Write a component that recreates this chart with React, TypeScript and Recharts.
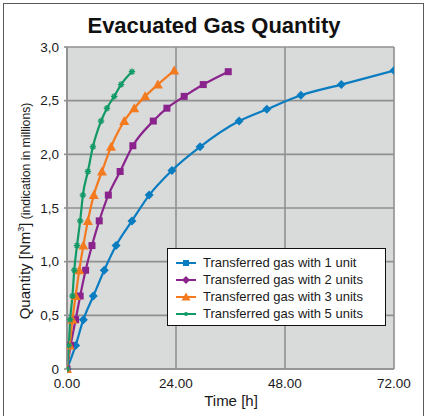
import React from "react"
import { LineChart, Line, XAxis, YAxis, CartesianGrid } from "recharts"

// time in hours per series
const hours1 = [0, 1.9, 3.6, 5.8, 8.2, 10.8, 14.3, 18.1, 23.1, 29.3, 37.9, 44, 51.5, 60.4, 72]
const hours2 = [0, 0.8, 1.9, 2.9, 4.1, 5.5, 7.1, 9.1, 11.7, 14.5, 19, 22, 25.8, 30, 35.5]
const hours3 = [0, 0.6, 1.2, 1.9, 2.7, 3.6, 4.6, 5.9, 7.7, 9.7, 12.6, 14.8, 17.2, 20, 23.6]
const hours5 = [0, 0.4, 0.7, 1.2, 1.6, 2.2, 2.9, 3.5, 4.6, 5.7, 7.5, 8.8, 10.4, 11.9, 14.3]

// quantity in millions Nm3
const qty1 = [0, 0.22, 0.46, 0.68, 0.92, 1.15, 1.38, 1.62, 1.85, 2.07, 2.31, 2.42, 2.55, 2.65, 2.78]
const qty2 = [0, 0.22, 0.46, 0.68, 0.92, 1.15, 1.38, 1.62, 1.84, 2.08, 2.31, 2.43, 2.54, 2.65, 2.77]
const qty3 = [0, 0.22, 0.46, 0.68, 0.92, 1.15, 1.38, 1.62, 1.84, 2.07, 2.31, 2.43, 2.54, 2.65, 2.78]
const qty5 = [0, 0.22, 0.46, 0.68, 0.92, 1.15, 1.38, 1.62, 1.84, 2.07, 2.31, 2.43, 2.54, 2.65, 2.77]

const xTicks = [0, 24, 48, 72]
const yTicks = [0, 0.5, 1, 1.5, 2, 2.5, 3]

const seriesNames = [
  "Transferred gas with 1 unit",
  "Transferred gas with 2 units",
  "Transferred gas with 3 units",
  "Transferred gas with 5 units",
]

const BLUE = "#0a7cc0"
const PURPLE = "#8a248c"
const ORANGE = "#f37a1f"
const GREEN = "#129a66"

const FONT = "'Liberation Sans', Arial, sans-serif"

const toPoints = (xs: number[], ys: number[]) => xs.map((t, i) => ({ t, q: ys[i] }))

const Diamond = (props: any) => {
  const { cx, cy, fill } = props
  if (cx == null || cy == null) return null
  return <path d={`M${cx},${cy - 4.5}L${cx + 4.5},${cy}L${cx},${cy + 4.5}L${cx - 4.5},${cy}Z`} fill={fill} />
}

const Square = (props: any) => {
  const { cx, cy, fill } = props
  if (cx == null || cy == null) return null
  return <rect x={cx - 3.5} y={cy - 3.5} width={7} height={7} fill={fill} />
}

const Triangle = (props: any) => {
  const { cx, cy, fill } = props
  if (cx == null || cy == null) return null
  return <path d={`M${cx},${cy - 5}L${cx + 5},${cy + 4}L${cx - 5},${cy + 4}Z`} fill={fill} />
}

const Star = (props: any) => {
  const { cx, cy, stroke } = props
  if (cx == null || cy == null) return null
  const r = 3.2
  return (
    <g stroke={stroke} strokeWidth={1.4}>
      <line x1={cx - r} y1={cy} x2={cx + r} y2={cy} />
      <line x1={cx} y1={cy - r} x2={cx} y2={cy + r} />
      <line x1={cx - r * 0.7} y1={cy - r * 0.7} x2={cx + r * 0.7} y2={cy + r * 0.7} />
      <line x1={cx - r * 0.7} y1={cy + r * 0.7} x2={cx + r * 0.7} y2={cy - r * 0.7} />
    </g>
  )
}

const legendColors = [BLUE, PURPLE, ORANGE, GREEN]

const LegendBox = () => (
  <div
    style={{
      position: "absolute",
      left: 167,
      top: 248,
      width: 219,
      height: 78,
      border: "1.5px solid #111",
      background: "#fff",
      boxSizing: "border-box",
      paddingTop: 5,
    }}
  >
    {seriesNames.map((name, i) => (
      <div key={name} style={{ display: "flex", alignItems: "center", height: 17, fontFamily: FONT, fontSize: 13, color: "#1a1a1a" }}>
        <svg width={35} height={12}>
          <line x1={8} y1={6} x2={28} y2={6} stroke={legendColors[i]} strokeWidth={2} />
          {i === 0 && <rect x={15} y={3} width={6} height={6} fill={BLUE} />}
          {i === 1 && <path d="M18,2 L22,6 L18,10 L14,6 Z" fill={PURPLE} />}
          {i === 2 && <path d="M18,1.5 L22.5,9.5 L13.5,9.5 Z" fill={ORANGE} />}
          {i === 3 && <circle cx={18} cy={6} r={2} fill={GREEN} />}
        </svg>
        <span>{name}</span>
      </div>
    ))}
  </div>
)

export default function App() {
  const fmtY = (v: number) => (v === 0 ? "0" : v.toFixed(1).replace(".", ","))
  const fmtX = (v: number) => v.toFixed(2)
  const tickStyle = { fontFamily: FONT, fontSize: 13.5, fill: "#1a1a1a" }

  return (
    <div style={{ position: "absolute", left: 0, top: 0, width: 425, height: 416, background: "#fff", overflow: "hidden" }}>
      <div style={{ position: "absolute", left: 3, top: 3, width: 419, height: 420, border: "1px solid #5a5a5a" }} />
      <LineChart width={425} height={416} margin={{ top: 47, right: 31, left: 0, bottom: 0 }}>
        <CartesianGrid fill="#d9dada" stroke="#909090" strokeWidth={1.6} />
        <XAxis
          type="number"
          dataKey="t"
          domain={[0, 72]}
          ticks={xTicks}
          tickFormatter={fmtX}
          height={47}
          tickSize={0}
          tickMargin={9}
          stroke="#909090"
          strokeWidth={1.6}
          tick={tickStyle}
          allowDataOverflow
        />
        <YAxis
          type="number"
          dataKey="q"
          domain={[0, 3]}
          ticks={yTicks}
          tickFormatter={fmtY}
          width={67}
          tickSize={3}
          tickMargin={5}
          stroke="#909090"
          strokeWidth={1.6}
          tick={tickStyle}
        />
        <Line data={toPoints(hours1, qty1)} dataKey="q" type="monotone" stroke={BLUE} strokeWidth={2.2} fill={BLUE} dot={<Diamond />} isAnimationActive={false} />
        <Line data={toPoints(hours2, qty2)} dataKey="q" type="monotone" stroke={PURPLE} strokeWidth={2.2} fill={PURPLE} dot={<Square />} isAnimationActive={false} />
        <Line data={toPoints(hours3, qty3)} dataKey="q" type="monotone" stroke={ORANGE} strokeWidth={2.2} fill={ORANGE} dot={<Triangle />} isAnimationActive={false} />
        <Line data={toPoints(hours5, qty5)} dataKey="q" type="monotone" stroke={GREEN} strokeWidth={2.2} fill={GREEN} dot={<Star />} isAnimationActive={false} />
      </LineChart>
      <LegendBox />
      <svg width={425} height={416} style={{ position: "absolute", left: 0, top: 0, pointerEvents: "none" }}>
        <text x={214} y={33} textAnchor="middle" fontFamily={FONT} fontSize={22} fontWeight="bold" fill="#111">
          Evacuated Gas Quantity
        </text>
        <text x={231} y={406} textAnchor="middle" fontFamily={FONT} fontSize={15} fill="#1a1a1a">
          Time [h]
        </text>
        <text transform="translate(30,211) rotate(-90)" textAnchor="middle" fontFamily={FONT} fill="#1a1a1a">
          <tspan fontSize={15}>Quantity [Nm</tspan>
          <tspan fontSize={9} dy={-6}>3</tspan>
          <tspan fontSize={15} dy={6}>]</tspan>
          <tspan fontSize={12.2}> (indication in millions)</tspan>
        </text>
      </svg>
    </div>
  )
}
